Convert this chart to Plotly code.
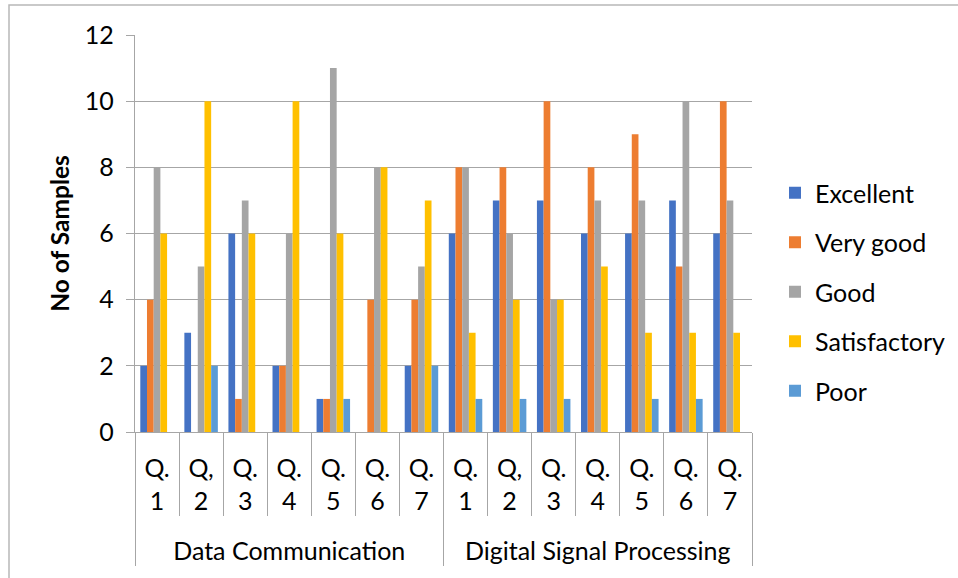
import plotly.graph_objects as go

subjects = ["<br>Data Communication"] * 7 + ["<br>Digital Signal Processing"] * 7
questions = ["Q.<br>1", "Q,<br>2", "Q.<br>3", "Q.<br>4", "Q.<br>5", "Q.<br>6", "Q.<br>7"] * 2

series_names = ["Excellent", "Very good", "Good", "Satisfactory", "Poor"]
excellent = [2, 3, 6, 2, 1, 0, 2, 6, 7, 7, 6, 6, 7, 6]
very_good = [4, 0, 1, 2, 1, 4, 4, 8, 8, 10, 8, 9, 5, 10]
good = [8, 5, 7, 6, 11, 8, 5, 8, 6, 4, 7, 7, 10, 7]
satisfactory = [6, 10, 6, 10, 6, 8, 7, 3, 4, 4, 5, 3, 3, 3]
poor = [0, 2, 0, 0, 1, 0, 2, 1, 1, 1, 0, 1, 1, 0]
y_ticks = [0, 2, 4, 6, 8, 10, 12]

colors = ["#4472C4", "#ED7D31", "#A5A5A5", "#FFC000", "#5B9BD5"]
FONT = "Lato"

fig = go.Figure()
for name, vals, col in zip(series_names, [excellent, very_good, good, satisfactory, poor], colors):
    fig.add_trace(go.Bar(
        x=[subjects, questions], y=vals, name=name,
        marker=dict(color=col, line=dict(width=0)),
        legendgroup=name,
    ))

W, H = 958, 578
L, R, T, B = 135, 958 - 752, 35, 578 - 432
pw, ph = W - L - R, H - T - B

fig.update_layout(
    width=W, height=H,
    margin=dict(l=L, r=R, t=T, b=B, autoexpand=False),
    paper_bgcolor="white", plot_bgcolor="white",
    font=dict(family=FONT, size=24, color="black"),
    barmode="group", bargap=0.24, bargroupgap=0,
    showlegend=True,
    legend=dict(x=(775 - L) / pw, xanchor="left", y=(432 - 292) / ph, yanchor="middle",
                font=dict(size=25), tracegroupgap=14, bgcolor="rgba(0,0,0,0)"),
    shapes=[dict(type="rect", xref="paper", yref="paper",
                 x0=(9 - L) / pw, x1=1.5, y0=-1.0, y1=(432 - 5) / ph,
                 line=dict(color="#b8b8b8", width=1.5), fillcolor="rgba(0,0,0,0)", layer="below")],
)
fig.update_yaxes(
    range=[0, 12], tickvals=y_ticks, showgrid=True, gridcolor="#a6a6a6", gridwidth=1.3,
    showline=True, linecolor="#a6a6a6", linewidth=1.3,
    ticks="outside", ticklen=8, tickcolor="#a6a6a6", ticklabelstandoff=7,
    tickfont=dict(size=25),
    zeroline=False,
    title=dict(text="<b>No of Samples</b>", font=dict(size=24.5), standoff=8),
)
fig.update_xaxes(
    showline=True, linecolor="#a6a6a6", linewidth=1.3,
    ticks="outside", tickson="boundaries", ticklen=83, tickcolor="#a6a6a6",
    showdividers=True, dividercolor="#a6a6a6", dividerwidth=1.3,
    tickfont=dict(size=25), ticklabelstandoff=14,
)

fig.write_html("out.html", config={"displayModeBar": False},
               post_script="document.body.style.margin='0';")
